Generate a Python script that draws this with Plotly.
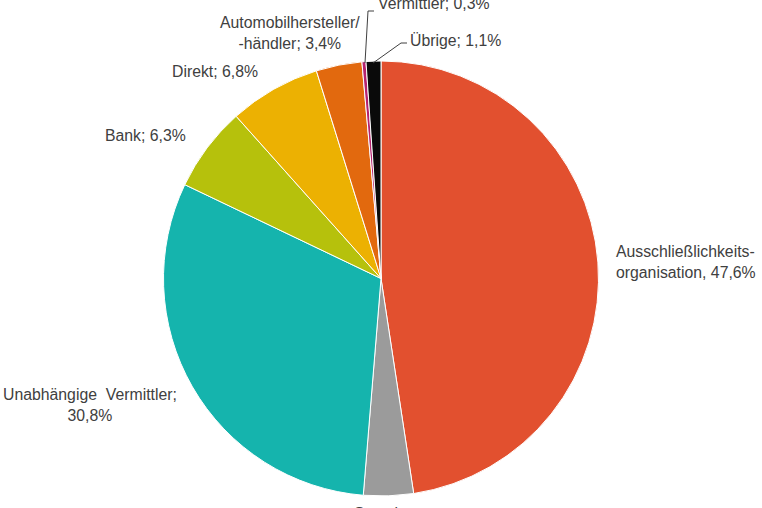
import plotly.graph_objects as go

labels = ["Ausschließlichkeitsorganisation", "Sonstige", "Unabhängige Vermittler", "Bank",
          "Direkt", "Automobilhersteller/-händler", "Vermittler", "Übrige"]
values = [47.6, 3.7, 30.8, 6.3, 6.8, 3.4, 0.3, 1.1]
colors = ["#E2502F", "#9B9B9B", "#15B4AD", "#B6C10C", "#ECB102", "#E2690E", "#B5236F", "#0A0A0A"]

W, H = 762, 508

def px(x):
    return x / W

def py(y):
    return 1 - y / H

fig = go.Figure(go.Pie(
    labels=labels, values=values, sort=False, direction="clockwise", rotation=0,
    marker=dict(colors=colors, line=dict(color="white", width=1)),
    textinfo="none", hoverinfo="label+percent", showlegend=False,
    domain=dict(x=[px(163), px(599)], y=[py(496), py(61)]),
))

font = dict(family="Liberation Sans, Arial, sans-serif", size=15.8, color="#404040")
ann = [
    dict(x=px(614), y=py(262), text="Ausschließlichkeits-<br>organisation, 47,6%", xanchor="left", align="left"),
    dict(x=px(90), y=py(405), text="Unabhängige  Vermittler;<br>30,8%", xanchor="center", align="center"),
    dict(x=px(145), y=py(136), text="Bank; 6,3%", xanchor="center"),
    dict(x=px(215), y=py(72), text="Direkt; 6,8%", xanchor="center"),
    dict(x=px(290), y=py(33), text="Automobilhersteller/<br>-händler; 3,4%", xanchor="center", align="center"),
    dict(x=px(376), y=py(4), text="Vermittler; 0,3%", xanchor="left"),
    dict(x=px(408), y=py(41), text="Übrige; 1,1%", xanchor="left"),
    dict(x=px(387), y=py(524), text="Sonstige;<br>3,7%", xanchor="center", align="center"),
]
for a in ann:
    a.update(xref="paper", yref="paper", showarrow=False, font=font, yanchor="middle")

line = dict(color="#404040", width=1)
shapes = [
    dict(type="path", xref="paper", yref="paper",
         path=f"M {px(365)},{py(63)} L {px(368)},{py(11)} L {px(374)},{py(11)}", line=line),
    dict(type="path", xref="paper", yref="paper",
         path=f"M {px(373)},{py(63)} L {px(401)},{py(43)} L {px(407)},{py(43)}", line=line),
]

fig.update_layout(width=W, height=H, margin=dict(l=0, r=0, t=0, b=0),
                  paper_bgcolor="white", plot_bgcolor="white",
                  annotations=ann, shapes=shapes)
fig.write_html("out.html")
